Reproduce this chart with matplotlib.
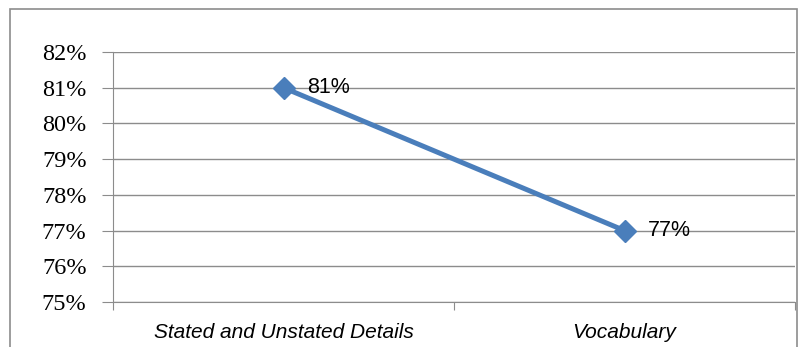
import matplotlib.pyplot as plt
from matplotlib.patches import Rectangle
from matplotlib.ticker import FuncFormatter

categories = ['Stated and Unstated Details', 'Vocabulary']
scores = [81, 77]
y_ticks = [75, 76, 77, 78, 79, 80, 81, 82]

fig = plt.figure(figsize=(7.98, 3.47), dpi=100)
ax = fig.add_axes([113 / 798, 45 / 347, 682 / 798, 250 / 347])

# outer chart frame
fig.patches.append(Rectangle((10 / 798, -0.05), 787 / 798, 0.05 + 338 / 347,
                             transform=fig.transFigure, fill=False,
                             edgecolor='#8c8c8c', linewidth=1.2))

x = [0.5, 1.5]
ax.plot(x, scores, color='#4a7ebb', linewidth=3.6, marker='D', markersize=11,
        zorder=3)
for xi, v in zip(x, scores):
    ax.annotate(f'{v}%', (xi, v), xytext=(17, 0), textcoords='offset points',
                va='center', ha='left', fontsize=15.5, family='Liberation Sans',
                zorder=4)

ax.set_xlim(0, 2)
ax.set_ylim(75, 82)
ax.set_yticks(y_ticks)
ax.yaxis.set_major_formatter(FuncFormatter(lambda v, p: f'{int(v)}%'))
ax.set_xticks([0, 1, 2])
ax.set_xticks(x, minor=True)
ax.set_xticklabels([])
ax.set_xticklabels(categories, minor=True, fontstyle='italic',
                   family='Liberation Sans', fontsize=15)
ax.tick_params(axis='x', which='minor', length=0, pad=15)
ax.tick_params(axis='x', which='major', length=6, color='#8c8c8c', direction='out')
ax.tick_params(axis='y', length=8, color='#8c8c8c', pad=11, labelsize=17.5)
for lbl in ax.get_yticklabels():
    lbl.set_family('Liberation Serif')

ax.grid(axis='y', color='#8c8c8c', linewidth=1)
ax.set_axisbelow(True)
for side in ['top', 'right']:
    ax.spines[side].set_visible(False)
for side in ['left', 'bottom']:
    ax.spines[side].set_color('#8c8c8c')

fig.savefig('out.png', dpi=100)
